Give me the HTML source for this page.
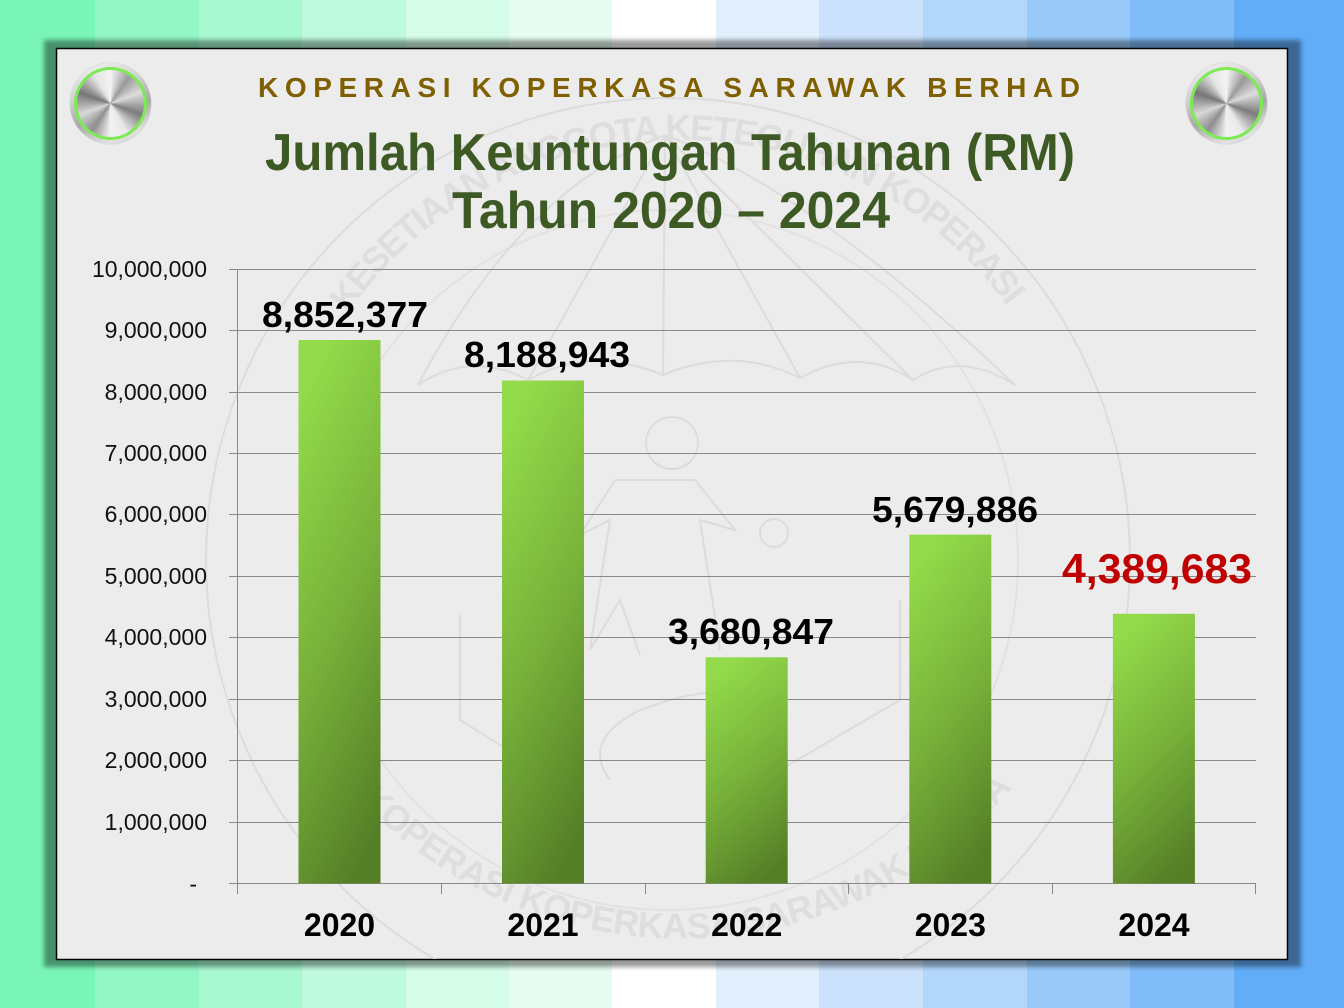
<!DOCTYPE html>
<html><head><meta charset="utf-8">
<style>
html,body{margin:0;padding:0;}
body{width:1344px;height:1008px;position:relative;overflow:hidden;background:#fff;}
svg{position:absolute;left:0;top:0;}
.knob{position:absolute;width:81px;height:81px;border-radius:50%;
 background:linear-gradient(160deg,#f6f6f6 0%,#d0d0d0 35%,#a8a8a8 60%,#e2e2e2 85%,#bdbdbd 100%);
 box-shadow:0 0 1px rgba(0,0,0,0.35);}
.knob .g{position:absolute;left:4px;top:4px;width:73px;height:73px;border-radius:50%;
 background:radial-gradient(circle,#7cea52 86%,#3fd017 92%,#33b810 100%);}
.knob .m{position:absolute;left:7px;top:7px;width:67px;height:67px;border-radius:50%;
 background:conic-gradient(from 0deg,#f4f4f4 0deg,#9a9a9a 35deg,#dcdcdc 70deg,#7c7c7c 110deg,#e8e8e8 150deg,#f2f2f2 180deg,#8e8e8e 215deg,#d8d8d8 250deg,#767676 290deg,#e4e4e4 330deg,#f4f4f4 360deg);}
</style></head>
<body>
<svg width="1344" height="1008" viewBox="0 0 1344 1008" xmlns="http://www.w3.org/2000/svg">
<defs>
 <linearGradient id="bar" x1="0.35" y1="0" x2="0.65" y2="1">
  <stop offset="0" stop-color="#93db4a"/>
  <stop offset="0.5" stop-color="#78b23a"/>
  <stop offset="1" stop-color="#557f27"/>
 </linearGradient>
 <filter id="blur" x="-5%" y="-5%" width="110%" height="110%"><feGaussianBlur stdDeviation="2.5"/></filter>
 <clipPath id="pclip"><rect x="57" y="49" width="1230" height="910"/></clipPath>
 <path id="topArc" d="M 348 313 A 405 405 0 0 1 1012 313"/>
 <path id="botArc" d="M 360 800 A 440 440 0 0 0 1010 790"/>
</defs>
<!-- stripes -->
<rect x="0" y="0" width="96" height="1008" fill="#78f5b7"/>
<rect x="95" y="0" width="105" height="1008" fill="#93f7c5"/>
<rect x="199" y="0" width="104" height="1008" fill="#a8f8d1"/>
<rect x="302" y="0" width="105" height="1008" fill="#bffadf"/>
<rect x="406" y="0" width="104" height="1008" fill="#d4fce8"/>
<rect x="509" y="0" width="104" height="1008" fill="#e7fdf2"/>
<rect x="612" y="0" width="105" height="1008" fill="#ffffff"/>
<rect x="716" y="0" width="104" height="1008" fill="#e2effc"/>
<rect x="819" y="0" width="105" height="1008" fill="#cce1fb"/>
<rect x="923" y="0" width="105" height="1008" fill="#b3d7fa"/>
<rect x="1027" y="0" width="104" height="1008" fill="#99c9f9"/>
<rect x="1130" y="0" width="105" height="1008" fill="#80bcf8"/>
<rect x="1234" y="0" width="110" height="1008" fill="#62adf7"/>
<!-- shadow -->
<rect x="44" y="40" width="1257" height="927" fill="#000" opacity="0.4" filter="url(#blur)"/>
<!-- panel -->
<rect x="56.5" y="48.5" width="1231" height="911" fill="#ececec" stroke="#000" stroke-width="1.5"/>

<!-- watermark -->
<g clip-path="url(#pclip)">
<g fill="none" stroke="#dcdcdc" stroke-width="2">
 <circle cx="668" cy="560" r="462"/>
 <circle cx="668" cy="560" r="350" stroke="#e2e2e2"/>
 <path d="M 418 385 Q 520 190 665 135 Q 810 190 1015 385"/>
 <path d="M 418 385 Q 470 350 528 380 Q 590 345 663 375 Q 735 345 800 378 Q 860 345 913 380 Q 960 350 1015 385"/>
 <path d="M 665 135 L 528 380 M 665 135 L 663 375 M 665 135 L 800 378 M 665 135 L 913 380"/>
 <circle cx="672" cy="443" r="26"/>
 <circle cx="774" cy="533" r="14"/>
 <path d="M 615 480 L 695 480 L 735 530 L 700 520 L 720 650 M 615 480 L 580 535 L 610 520 L 590 650 L 620 600 L 640 655"/>
 <path d="M 460 615 L 460 720 L 540 770 M 900 600 L 900 700 L 780 770"/>
 <path d="M 610 780 Q 580 740 640 710 Q 720 680 760 700"/>
</g>
<g fill="#dedede" font-family="Liberation Sans, sans-serif" font-weight="bold" font-size="36">
 <text><textPath href="#topArc" textLength="770" lengthAdjust="spacing">KESETIAAN ANGGOTA KETEGUHAN KOPERASI</textPath></text>
 <text><textPath href="#botArc" textLength="760" lengthAdjust="spacing">KOPERASI KOPERKASA SARAWAK BERHAD</textPath></text>
</g>
</g>

<!-- titles -->
<text x="258" y="97" font-family="Liberation Sans, sans-serif" font-weight="bold" font-size="28" fill="#7f5f00" textLength="822" lengthAdjust="spacing">KOPERASI KOPERKASA SARAWAK BERHAD</text>
<text x="265" y="170" font-family="Liberation Sans, DejaVu Sans, sans-serif" font-weight="bold" font-size="52" fill="#3d5a24" textLength="810" lengthAdjust="spacingAndGlyphs">Jumlah Keuntungan Tahunan (RM)</text>
<text x="452" y="228" font-family="Liberation Sans, DejaVu Sans, sans-serif" font-weight="bold" font-size="52" fill="#3d5a24" textLength="438" lengthAdjust="spacingAndGlyphs">Tahun 2020 – 2024</text>

<!-- gridlines -->
<g stroke="#898989" stroke-width="1">
 <line x1="229" y1="269.5" x2="1256" y2="269.5"/>
 <line x1="229" y1="330.5" x2="1256" y2="330.5"/>
 <line x1="229" y1="392.5" x2="1256" y2="392.5"/>
 <line x1="229" y1="453.5" x2="1256" y2="453.5"/>
 <line x1="229" y1="514.5" x2="1256" y2="514.5"/>
 <line x1="229" y1="576.5" x2="1256" y2="576.5"/>
 <line x1="229" y1="637.5" x2="1256" y2="637.5"/>
 <line x1="229" y1="699.5" x2="1256" y2="699.5"/>
 <line x1="229" y1="760.5" x2="1256" y2="760.5"/>
 <line x1="229" y1="822.5" x2="1256" y2="822.5"/>
 <line x1="229" y1="883.5" x2="1256" y2="883.5"/>
 <line x1="237.5" y1="269" x2="237.5" y2="894"/>
 <line x1="441.5" y1="883" x2="441.5" y2="894"/>
 <line x1="645.5" y1="883" x2="645.5" y2="894"/>
 <line x1="848.5" y1="883" x2="848.5" y2="894"/>
 <line x1="1052.5" y1="883" x2="1052.5" y2="894"/>
 <line x1="1255.5" y1="883" x2="1255.5" y2="894"/>
</g>

<!-- y labels -->
<g font-family="Liberation Sans, sans-serif" font-size="23" fill="#111" text-anchor="end">
 <text x="207" y="277" textLength="115" lengthAdjust="spacingAndGlyphs">10,000,000</text>
 <text x="207" y="338">9,000,000</text>
 <text x="207" y="400">8,000,000</text>
 <text x="207" y="461">7,000,000</text>
 <text x="207" y="522">6,000,000</text>
 <text x="207" y="584">5,000,000</text>
 <text x="207" y="645">4,000,000</text>
 <text x="207" y="707">3,000,000</text>
 <text x="207" y="768">2,000,000</text>
 <text x="207" y="830">1,000,000</text>
 <text x="197" y="892">-</text>
</g>

<!-- bars -->
<g fill="url(#bar)">
 <rect x="298.5" y="340" width="82" height="543.5"/>
 <rect x="502" y="380.5" width="82" height="503"/>
 <rect x="705.7" y="657.3" width="82" height="226.2"/>
 <rect x="909.3" y="534.6" width="82" height="348.9"/>
 <rect x="1112.9" y="613.8" width="82" height="269.7"/>
</g>

<!-- value labels -->
<g font-family="Liberation Sans, sans-serif" font-weight="bold" font-size="36" fill="#000" text-anchor="middle">
 <text x="345" y="327" textLength="166" lengthAdjust="spacingAndGlyphs">8,852,377</text>
 <text x="547" y="367" textLength="166" lengthAdjust="spacingAndGlyphs">8,188,943</text>
 <text x="751" y="644" textLength="166" lengthAdjust="spacingAndGlyphs">3,680,847</text>
 <text x="955" y="522" textLength="166" lengthAdjust="spacingAndGlyphs">5,679,886</text>
</g>
<text x="1157" y="583" font-family="Liberation Sans, sans-serif" font-weight="bold" font-size="42" fill="#c00000" text-anchor="middle" textLength="190" lengthAdjust="spacingAndGlyphs">4,389,683</text>

<!-- year labels -->
<g font-family="Liberation Sans, sans-serif" font-weight="bold" font-size="32" fill="#000" text-anchor="middle">
 <text x="339.5" y="936">2020</text>
 <text x="543" y="936">2021</text>
 <text x="746.7" y="936">2022</text>
 <text x="950.3" y="936">2023</text>
 <text x="1154" y="936">2024</text>
</g>
</svg>
<div class="knob" style="left:70px;top:63px;"><div class="g"></div><div class="m"></div></div>
<div class="knob" style="left:1186px;top:63px;"><div class="g"></div><div class="m"></div></div>
</body></html>
